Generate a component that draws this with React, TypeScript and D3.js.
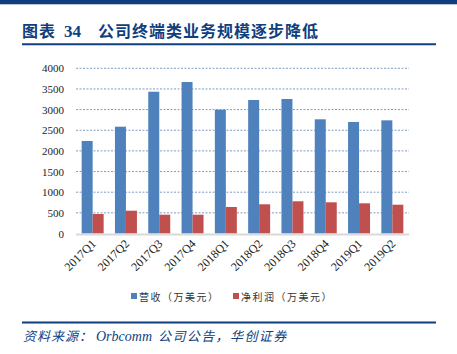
import { useEffect, useRef } from 'react'
import * as d3 from 'd3'

const quarters = ['2017Q1', '2017Q2', '2017Q3', '2017Q4', '2018Q1', '2018Q2', '2018Q3', '2018Q4', '2019Q1', '2019Q2']
const revenue = [2240, 2586, 3433, 3668, 2998, 3232, 3257, 2765, 2700, 2740]
const netProfit = [472, 552, 455, 455, 642, 707, 780, 755, 731, 697]
const yTicks = [0, 500, 1000, 1500, 2000, 2500, 3000, 3500, 4000]
const seriesNames = ['营收（万美元）', '净利润（万美元）']
const seriesColors = ['#4f81bd', '#c0504d']

const W = 457
const H = 354
const navy = '#0f3f7f'
const serif = '"Liberation Serif", "Times New Roman", serif'
const cjk = '"Noto Sans CJK SC", sans-serif'

export default function App() {
  const svgRef = useRef<SVGSVGElement>(null)

  useEffect(() => {
    if (!svgRef.current) return
    const svg = d3.select(svgRef.current)
    svg.selectAll('*').remove()

    const plot = { left: 76, right: 409, top: 68.3, bottom: 233.5 }

    // header bar + title
    svg.append('rect').attr('x', 0).attr('y', 0).attr('width', W).attr('height', 4.3).attr('fill', navy)
    const title = svg.append('text')
      .attr('y', 37)
      .attr('fill', navy)
      .attr('font-weight', 'bold')
      .attr('font-size', 16)
    title.append('tspan').attr('x', 22).attr('font-family', cjk).attr('letter-spacing', 1).text('图表')
    title.append('tspan').attr('x', 64).attr('font-family', serif).attr('font-size', 17).text('34')
    title.append('tspan').attr('x', 98).attr('font-family', cjk).attr('letter-spacing', 1).text('公司终端类业务规模逐步降低')
    svg.append('line').attr('x1', 22).attr('x2', 436).attr('y1', 44.3).attr('y2', 44.3)
      .attr('stroke', navy).attr('stroke-width', 2)

    const x0 = d3.scaleBand<string>().domain(quarters).range([plot.left, plot.right]).paddingInner(0.34).paddingOuter(0.17)
    const x1 = d3.scaleBand<number>().domain([0, 1]).range([0, x0.bandwidth()])
    const y = d3.scaleLinear().domain([0, 4000]).range([plot.bottom, plot.top])

    // grid
    svg.append('g').selectAll('line')
      .data(yTicks.filter(t => t > 0))
      .enter().append('line')
      .attr('x1', plot.left).attr('x2', plot.right)
      .attr('y1', d => y(d)).attr('y2', d => y(d))
      .attr('stroke', '#7f9cc4').attr('stroke-width', 1)
      .attr('stroke-dasharray', '2,1.5')

    // y labels
    svg.append('g').selectAll('text')
      .data(yTicks)
      .enter().append('text')
      .attr('x', 64).attr('y', d => y(d) + 4)
      .attr('text-anchor', 'end')
      .attr('font-family', serif).attr('font-size', 11)
      .attr('fill', '#222')
      .text(d => d)

    // bars
    const groups = svg.append('g').selectAll('g')
      .data(quarters)
      .enter().append('g')
      .attr('transform', d => `translate(${x0(d)},0)`)
    groups.selectAll('rect')
      .data((_, i) => [revenue[i], netProfit[i]])
      .enter().append('rect')
      .attr('x', (_, j) => x1(j) as number)
      .attr('width', x1.bandwidth())
      .attr('y', d => y(d))
      .attr('height', d => plot.bottom - y(d))
      .attr('fill', (_, j) => seriesColors[j])

    // axis line
    svg.append('line').attr('x1', plot.left).attr('x2', plot.right)
      .attr('y1', plot.bottom + 1).attr('y2', plot.bottom + 1)
      .attr('stroke', '#d9d9d9').attr('stroke-width', 2)

    // x labels
    svg.append('g').selectAll('text')
      .data(quarters)
      .enter().append('text')
      .attr('transform', d => `translate(${(x0(d) as number) + x0.bandwidth() / 2 + 4},${plot.bottom + 11}) rotate(-45)`)
      .attr('text-anchor', 'end')
      .attr('font-family', serif).attr('font-size', 12)
      .attr('fill', '#222')
      .text(d => d)

    // legend
    const legendX = [131, 233]
    const legend = svg.append('g').selectAll('g')
      .data(seriesNames)
      .enter().append('g')
      .attr('transform', (_, i) => `translate(${legendX[i]},297)`)
    legend.append('rect').attr('x', 0).attr('y', -4).attr('width', 6).attr('height', 6)
      .attr('fill', (_, i) => seriesColors[i])
    legend.append('text').attr('x', 8).attr('y', 3.5)
      .attr('font-family', cjk).attr('font-size', 10).attr('fill', '#333')
      .attr('letter-spacing', 1.5)
      .text(d => d)

    // footer
    svg.append('line').attr('x1', 22).attr('x2', 436).attr('y1', 322.5).attr('y2', 322.5)
      .attr('stroke', navy).attr('stroke-width', 2)
    const src = svg.append('text').attr('y', 341)
      .attr('fill', navy).attr('font-size', 14).attr('font-style', 'italic')
    src.append('tspan').attr('x', 23).attr('font-family', cjk).attr('font-size', 13).attr('letter-spacing', 1).text('资料来源：')
    src.append('tspan').attr('x', 96).attr('font-family', serif).text('Orbcomm')
    src.append('tspan').attr('x', 158).attr('font-family', cjk).attr('font-size', 13).attr('letter-spacing', 1.4).text('公司公告，华创证券')
  }, [])

  return (
    <div style={{ position: 'absolute', left: 0, top: 0 }}>
      <svg ref={svgRef} width={W} height={H} style={{ display: 'block', background: '#fff' }} />
    </div>
  )
}
